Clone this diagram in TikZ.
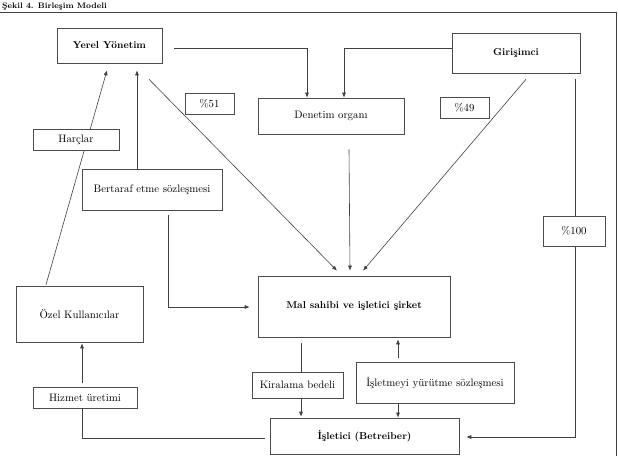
\documentclass[tikz,border=0pt]{standalone}
\usepackage{amsmath}
\usepackage{tikz}
\usetikzlibrary{positioning}
\usetikzlibrary{arrows.meta}
\usepackage{xcolor}

\begin{document}
\begin{tikzpicture}[x=1pt,y=-1pt,
  box/.style={draw=black!70, line width=0.6pt, fill=white, inner sep=0pt, font=\fontsize{10.8}{12}\selectfont},
  bbox/.style={box, font=\fontsize{10}{12}\selectfont\bfseries},
  arr/.style={draw=black!75, line width=0.6pt, -{Latex[length=5pt,width=4pt]}},
  ln/.style={draw=black!75, line width=0.6pt}]
\useasboundingbox (0,0) rectangle (618,455);

% frame and title
\draw[black!75, line width=0.7pt] (-3,12) rectangle (616,470);
\node[anchor=base west, inner sep=0pt, font=\fontsize{8}{9}\selectfont\bfseries] (title) at (2,9) {Şekil 4. Birleşim Modeli};

% main boxes
\node[bbox, minimum width=105, minimum height=35] (yerel) at (109.5,45.5) {Yerel Yönetim};
\node[bbox, minimum width=128, minimum height=40] (girisim) at (516,53) {Girişimci};
\node[box, minimum width=146, minimum height=36] (denetim) at (331,116) {Denetim organı};
\node[box, minimum width=140, minimum height=41] (bertaraf) at (152,189.5) {Bertaraf etme sözleşmesi};
\node[box, minimum width=127, minimum height=56] (ozel) at (79.5,314) {Özel Kullanıcılar};
\node[bbox, minimum width=192, minimum height=61] (mal) at (354,306.5) {Mal sahibi ve işletici şirket};
\node[box, minimum width=158, minimum height=41] (isletmeyi) at (435,382.5) {İşletmeyi yürütme sözleşmesi};
\node[bbox, minimum width=189, minimum height=36] (isletici) at (364.5,436) {İşletici (Betreiber)};

% connectors
\draw[arr] ([shift={(12,2.5)}]yerel.east) -| ([xshift=-24pt]denetim.north);
\draw[arr] ([shift={(0,-5)}]girisim.west) -| ([xshift=13pt]denetim.north);
\draw[arr] ([shift={(18,15)}]denetim.south) -- ([shift={(-4,-5)}]mal.north);
\draw[arr] ([shift={(39.5,16)}]yerel.south) -- ([shift={(-17,-5)}]mal.north);
\draw[arr] ([shift={(10,6)}]girisim.south) -- ([shift={(9,-5)}]mal.north);
\draw[arr] ([shift={(-33.5,-1)}]ozel.north) -- ([shift={(-2.5,7)}]yerel.south);
\draw[arr] ([xshift=-15pt]bertaraf.north) -- ([shift={(27.5,7)}]yerel.south);
\draw[arr] ([shift={(16,5)}]bertaraf.south) |- ([shift={(-8,0.5)}]mal.west);
\draw[arr] ([shift={(-53,6)}]mal.south) -- ([shift={(-63.5,-1)}]isletici.north);
\draw[arr] ([shift={(-37,-4)}]isletmeyi.north) -- ([shift={(44,2)}]mal.south);
\draw[arr] ([xshift=-37pt]isletmeyi.south) -- ([xshift=33.5pt]isletici.north);
\draw[arr] ([shift={(59,6)}]girisim.south) |- ([shift={(7,1)}]isletici.east);

% labels on the lines
\node[box, minimum width=49, minimum height=21] (p51) at (209.5,103.5) {\%51};
\node[box, minimum width=49, minimum height=21] (p49) at (464.5,107.5) {\%49};
\node[box, minimum width=62, minimum height=30] (p100) at (574,231) {\%100};
\node[box, minimum width=86, minimum height=21] (harclar) at (76,139.5) {Harçlar};
\node[box, minimum width=91, minimum height=26] (kiralama) at (297.5,385) {Kiralama bedeli};
\node[box, minimum width=104, minimum height=21] (hizmet) at (85,397.5) {Hizmet üretimi};

\draw[arr] ([shift={(-3,-4)}]hizmet.north) -- ([shift={(2.5,1)}]ozel.south);
\draw[ln] ([shift={(-5,2)}]isletici.west) -| ([xshift=-3pt]hizmet.south);

\end{tikzpicture}
\end{document}
